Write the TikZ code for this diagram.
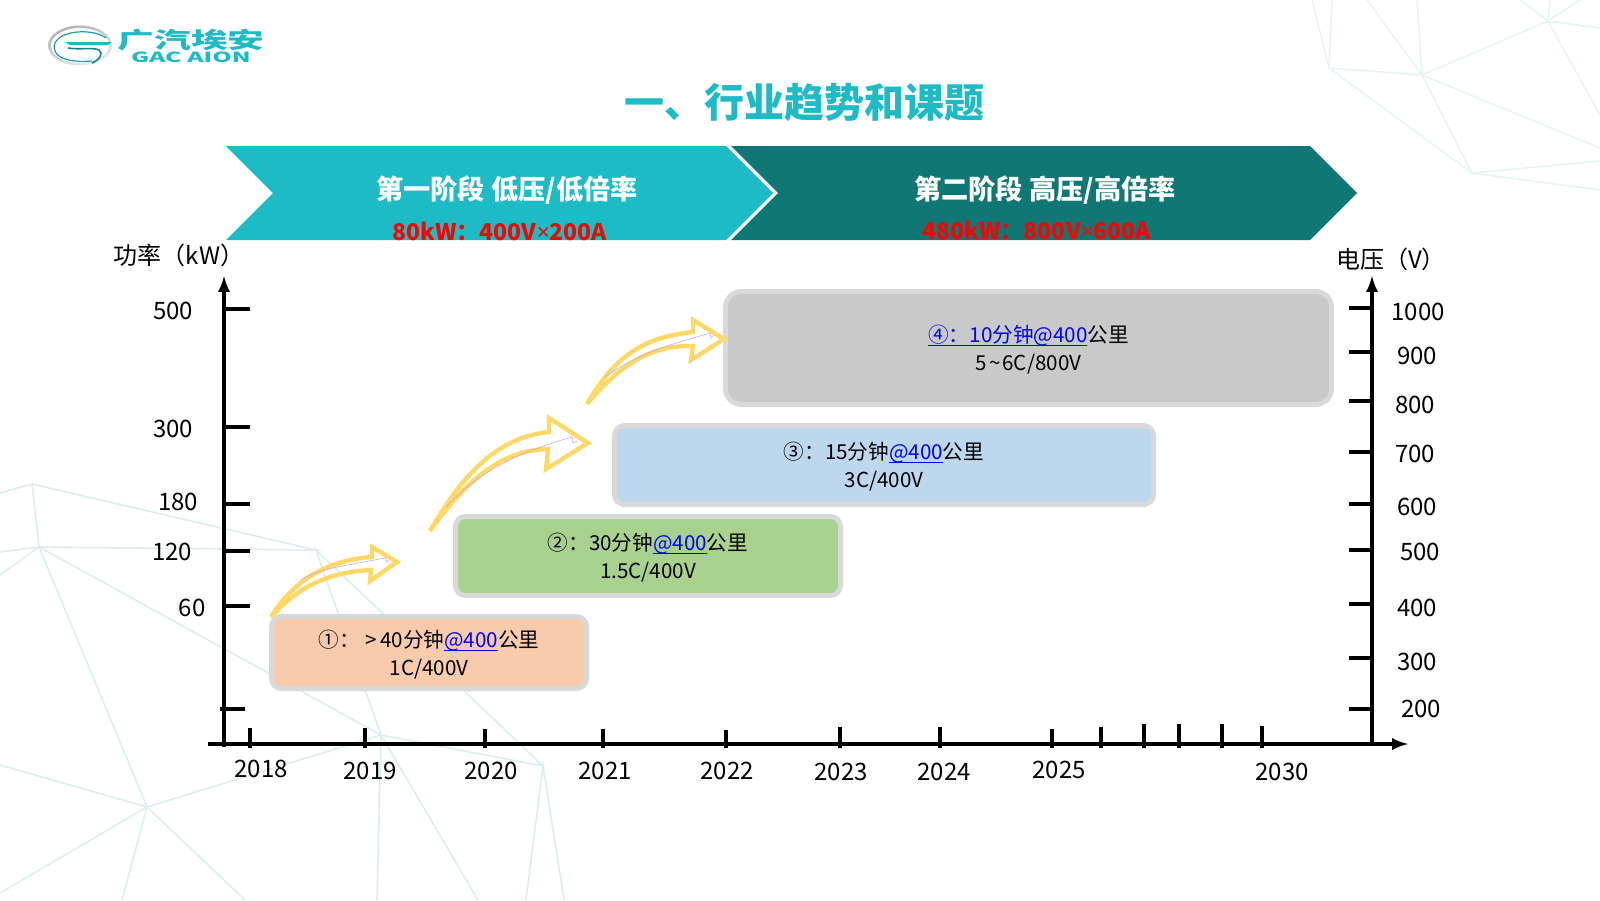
\documentclass[tikz,border=0pt]{standalone}
\usepackage{fontspec}
\setmainfont{Noto Sans CJK SC}
\newfontfamily\latinfont{Noto Sans}
\definecolor{aionteal}{HTML}{1DBBC5}
\definecolor{aiondark}{HTML}{107775}
\definecolor{meshline}{HTML}{DDEDED}
\definecolor{meshfaint}{HTML}{E8F3F3}
\definecolor{arrowgold}{HTML}{FFD966}
\definecolor{boxedge}{HTML}{D9D9D9}
\definecolor{linkblue}{HTML}{0000FF}
\definecolor{boxpeach}{HTML}{F7CBAC}
\definecolor{boxgreen}{HTML}{A9D18E}
\definecolor{boxblue}{HTML}{BDD7EE}
\definecolor{boxgrey}{HTML}{C9C9C9}
\newcommand{\lnk}[1]{\textcolor{linkblue}{\setbox0=\hbox{#1}\dp0=0pt \underline{\box0}}}
\tikzset{
    meshedge/.style={draw=meshline, line width=.8pt},
    meshtop/.style={draw=meshfaint, line width=.8pt},
    axisline/.style={draw=black, line width=1.7pt},
    ticklabel/.style={inner sep=0pt, font=\fontsize{12}{14}\selectfont},
    stagebox/.style={draw=boxedge, line width=2.5pt, rounded corners=5pt},
    boxtext/.style={inner sep=0pt, align=center, font=\fontsize{10.3}{14}\selectfont},
    hollowarrow/.style={draw=arrowgold, line width=2.2pt, line join=miter},
    sketchline/.style={draw=violet!35, line width=.3pt},
    stagelabel/.style={inner sep=0pt, text=white, font=\fontsize{13.6}{16}\selectfont\bfseries},
    ratelabel/.style={inner sep=0pt, text=red, font=\fontsize{11.5}{14}\selectfont\bfseries},
}
\begin{document}
\begin{tikzpicture}[x=.5pt, y=-.5pt]
    \useasboundingbox (0,0) rectangle (1600,900);
    \draw[meshtop] (1312,0)--(1329,68)--(1332,0);
    \draw[meshtop] (1329,68)--(1422,75)--(1548,21);
    \draw[meshtop] (1367,0)--(1422,75)--(1417,0);
    \draw[meshtop] (1329,68)--(1472,173)--(1422,75)--(1600,148);
    \draw[meshtop] (1600,161)--(1472,173)--(1600,190);
    \draw[meshtop] (1600,28)--(1548,21)--(1600,115);
    \draw[meshtop] (1520,0)--(1548,21)--(1550,0);
    \draw[meshtop] (1548,21)--(1580,0);
    \draw[meshedge] (0,493)--(32,484)--(39,547)--(0,552);
    \draw[meshedge] (32,484)--(316,550)--(39,547)--(0,575);
    \draw[meshedge] (39,547)--(381,735)--(316,550)--(543,766)--(381,735);
    \draw[meshedge] (39,547)--(147,807)--(381,735);
    \draw[meshedge] (0,765)--(147,807)--(0,893);
    \draw[meshedge] (122,900)--(147,807)--(245,900);
    \draw[meshedge] (377,900)--(381,735)--(478,900);
    \draw[meshedge] (526,900)--(543,766)--(564,900);

    \shade[left color=gray!60, right color=gray!15, shading angle=20] (80,45.5) ellipse [x radius=32, y radius=20];
    \fill[white] (80,45.5) ellipse [x radius=29, y radius=17.5];
    \draw[aionteal!85!black, line width=.6pt] (106,38) .. controls (95,29) and (62,29) .. (55,43) .. controls (50,58) and (70,63) .. (92,61);
    \fill[aionteal] (65,42)--(112,42)--(108,45)--(70,45)--cycle;
    \draw[aionteal!70!black, line width=.8pt] (68,48) .. controls (80,50) and (92,47) .. (99,50) .. controls (104,54) and (99,60) .. (92,63);
    \node[inner sep=0pt, text=aionteal] (logocn) at (191,40) {\scalebox{1.02}[.62]{\fontsize{18}{18}\selectfont\bfseries 广汽埃安}};
    \node[inner sep=0pt, text=aionteal] (logoen) at (191,57) {\scalebox{1.77}[1]{\fontsize{7}{8}\selectfont\bfseries GAC AION}};
    \node[inner sep=0pt, text=aionteal] (title) at (804,102) {\fontsize{20}{24}\selectfont\bfseries 一、行业趋势和课题};

    \fill[aiondark] (731,146)--(1310,146)--(1357,193)--(1310,240)--(731,240)--(778,193)--cycle;
    \fill[aionteal] (226,146)--(726,146)--(773,193)--(726,240)--(226,240)--(273,193)--cycle;
    \node[stagelabel] (stageone) at (507,190) {第一阶段 低压/低倍率};
    \node[stagelabel] (stagetwo) at (1045,190) {第二阶段 高压/高倍率};
    \node[ratelabel] (rateone) at (500,231) {80kW：400V{\latinfont ×}200A};
    \node[ratelabel] (ratetwo) at (1037,230) {480kW：800V{\latinfont ×}600A};

    \coordinate (xstart) at (208,744);
    \coordinate (xend) at (1408,744);
    \coordinate (ltop) at (224,276);
    \coordinate (lfoot) at (224,747);
    \coordinate (rtop) at (1372,276);
    \coordinate (rfoot) at (1372,744);
    \draw[axisline, -latex] (xstart)--(xend);
    \draw[axisline, -latex] (lfoot)--(ltop);
    \draw[axisline, -latex] (rfoot)--(rtop);
    \foreach \ty in {309,427,504,551,606}
        \draw[axisline] (224,\ty)--(250,\ty);
    \draw[axisline] (220,709)--(245,709);
    \foreach \ty in {308,352,401,452,504,550,604,658,709}
        \draw[axisline] (1349,\ty)--(1372,\ty);
    \foreach \tx/\ty in {250/728,365/728,485/729,603/729,726/730,840/727,940/727,1052/729,1101/727,1144/724,1179/724,1222/724,1262/726}
        \draw[axisline] (\tx,\ty)--(\tx,748);

    \foreach \lx/\ly/\lab in {173/311/500,173/429/300,178/502/180,172/552/120,192/608/60}
        \node[ticklabel] (power\lab) at (\lx,\ly) {\lab};
    \foreach \lx/\ly/\lab in {1418/312/1000,1417/356/900,1415/405/800,1415/454/700,1417/507/600,1420/552/500,1417/608/400,1417/662/300,1421/709/200}
        \node[ticklabel] (volt\lab) at (\lx,\ly) {\lab};
    \foreach \lx/\ly/\lab in {261/769/2018,370/771/2019,491/771/2020,605/771/2021,727/771/2022,841/772/2023,944/772/2024,1059/770/2025,1282/772/2030}
        \node[ticklabel] (year\lab) at (\lx,\ly) {\lab};
    \node[ticklabel] (powertitle) at (179,255) {功率（kW）};
    \node[ticklabel] (volttitle) at (1391,259) {电压（V）};

    \node[stagebox, fill=boxpeach, minimum width=157.5pt, minimum height=36pt] (boxone) at (429,652.5) {};
    \node[stagebox, fill=boxgreen, minimum width=192.5pt, minimum height=39.5pt] (boxtwo) at (648,556) {};
    \node[stagebox, fill=boxblue, minimum width=269.5pt, minimum height=39.5pt] (boxthree) at (884,465) {};
    \node[stagebox, fill=boxgrey, rounded corners=8pt, minimum width=303pt, minimum height=56.5pt] (boxfour) at (1028.5,348) {};
    \node[boxtext] (textone) at (429,654.5) {①：\hspace{3pt}>\hspace{1.6pt}40分钟\lnk{@400}公里\\1C/400V};
    \node[boxtext] (texttwo) at (648,558) {②：30分钟\lnk{@400}公里\\1.5C/400V};
    \node[boxtext] (textthree) at (884,467) {③：15分钟\lnk{@400}公里\\3C/400V};
    \node[boxtext] (textfour) at (1028.5,350) {\lnk{④：10分钟@400}公里\\5\hspace{1pt}\textasciitilde\hspace{1pt}6C/800V};

    \draw[hollowarrow] (271,617) .. controls (295,578) and (330,560) .. (372,557)--(372,547)--(397,562)--(370,581)--(371,570) .. controls (330,572) and (300,585) .. cycle;
    \draw[sketchline] (300,580) .. controls (320,568) and (350,565) .. (385,558)--(387,562)--(389,560);
    \draw[hollowarrow] (430,531) .. controls (465,470) and (500,437) .. (549,432)--(549,418)--(588,443)--(546,469)--(548,449) .. controls (505,450) and (470,475) .. cycle;
    \draw[sketchline] (446,507) .. controls (480,470) and (520,452) .. (572,437)--(573,443)--(577,441);
    \draw[hollowarrow] (587,404) .. controls (615,355) and (645,337) .. (693,332)--(693,320)--(724,339)--(691,360)--(693,346) .. controls (650,345) and (620,365) .. cycle;
    \draw[sketchline] (605,377) .. controls (640,352) and (670,345) .. (710,333)--(711,338)--(714,335);
\end{tikzpicture}
\end{document}
